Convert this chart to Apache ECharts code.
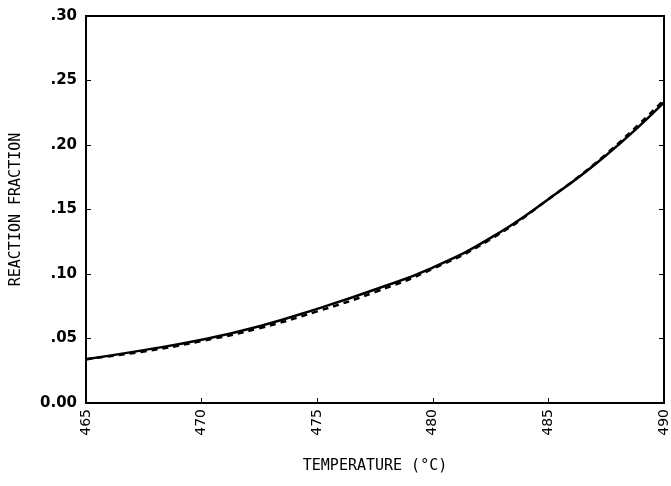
<!DOCTYPE html>
<html>
<head>
<meta charset="utf-8">
<script src="https://cdn.jsdelivr.net/npm/echarts@6/dist/echarts.min.js"></script>
<style>
html, body { margin: 0; padding: 0; background: #fff; }
#chart { width: 671px; height: 486px; }
</style>
</head>
<body>
<div id="chart"></div>
<script>
// temperature (°C) vs reaction fraction
var temps = [465, 467.5, 470, 472.5, 475, 477.5, 480, 482.5, 485, 487.5, 490]
var solidVals = [0.034, 0.041, 0.049, 0.0595, 0.073, 0.088, 0.105, 0.128, 0.158, 0.192, 0.233]
var dashedVals = [0.034, 0.040, 0.048, 0.058, 0.071, 0.086, 0.104, 0.127, 0.158, 0.193, 0.235]
var yTickLabels = {"0": "0.00", "0.05": ".05", "0.1": ".10", "0.15": ".15", "0.2": ".20", "0.25": ".25", "0.3": ".30"}

var font = "DejaVu Sans"
var monoFont = "DejaVu Sans Mono"

function pairs(xs, ys){
	return xs.map(function(x, i){ return [x, ys[i]] })
}

var option = {
	animation: false,
	backgroundColor: "#fff",
	grid: {
		left: 86, right: 6, top: 16, bottom: 83,
		show: true, borderColor: "#000", borderWidth: 2
	},
	xAxis: {
		type: "value",
		min: 465, max: 490, interval: 5,
		name: "TEMPERATURE (°C)",
		nameLocation: "middle",
		nameGap: 56,
		nameTextStyle: { fontFamily: monoFont, fontSize: 15, color: "#000" },
		axisLine: { lineStyle: { color: "#000", width: 2 } },
		axisTick: { inside: true, length: 5, lineStyle: { color: "#000" } },
		axisLabel: {
			rotate: 90, margin: 6,
			fontFamily: font, fontSize: 14, color: "#000",
			formatter: function(v){ return String(v) }
		},
		splitLine: { show: false }
	},
	yAxis: [{
		type: "value",
		min: 0, max: 0.3, interval: 0.05,
		name: "REACTION FRACTION",
		nameLocation: "middle",
		nameGap: 62,
		nameTextStyle: { fontFamily: monoFont, fontSize: 15, color: "#000" },
		axisLine: { lineStyle: { color: "#000", width: 2 } },
		axisTick: { inside: true, length: 5, lineStyle: { color: "#000" } },
		axisLabel: {
			margin: 9, fontFamily: font, fontSize: 15, fontWeight: "bold", color: "#000",
			formatter: function(v){ return yTickLabels[String(+v.toFixed(2))] || "" }
		},
		splitLine: { show: false }
	}, {
		type: "value",
		position: "right",
		min: 0, max: 0.3, interval: 0.05,
		axisLine: { show: true, lineStyle: { color: "#000", width: 2 } },
		axisTick: { inside: true, length: 5, lineStyle: { color: "#000" } },
		axisLabel: { show: false },
		splitLine: { show: false }
	}],
	series: [
		{
			name: "solid",
			type: "line",
			smooth: true,
			symbol: "none",
			data: pairs(temps, solidVals),
			lineStyle: { color: "#000", width: 2.5 }
		},
		{
			name: "dashed",
			type: "line",
			smooth: true,
			symbol: "none",
			data: pairs(temps, dashedVals),
			lineStyle: { color: "#000", width: 2.5, type: [6, 5] }
		}
	]
}

var myChart = echarts.init(document.getElementById("chart"))
myChart.setOption(option)
</script>
</body>
</html>
